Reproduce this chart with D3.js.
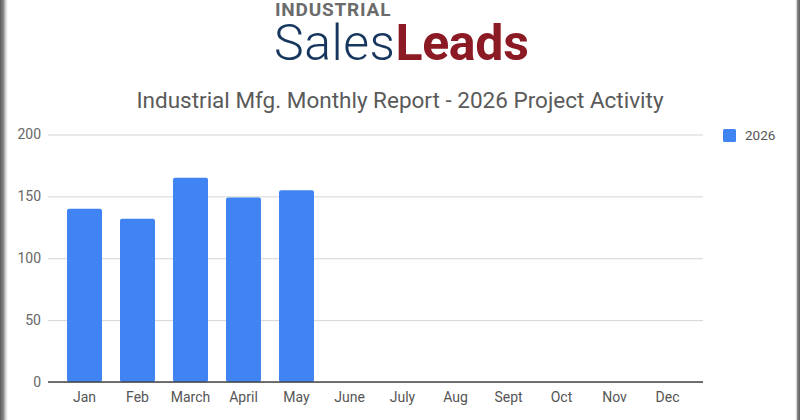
<!DOCTYPE html>
<html><head><meta charset="utf-8">
<script src="https://cdn.jsdelivr.net/npm/d3@7"></script>
<style>html,body{margin:0;padding:0;background:#fff;}svg{display:block;}</style>
</head><body>
<script>
const months = ["Jan","Feb","March","April","May","June","July","Aug","Sept","Oct","Nov","Dec"];
const values2026 = [140,132,165,149,155,null,null,null,null,null,null,null];
const yTicks = [0,50,100,150,200];
const seriesName = "2026";
const titleText = "Industrial Mfg. Monthly Report - 2026 Project Activity";

const W = 800, H = 420;
const svg = d3.select("body").append("svg").attr("width", W).attr("height", H);
const font = "Roboto, 'Noto Sans', Arial, sans-serif";

// frame edges
const defs = svg.append("defs");
const gl = defs.append("linearGradient").attr("id","gl").attr("x1","0").attr("x2","1");
gl.append("stop").attr("offset","0").attr("stop-color","#5a5a5a");
gl.append("stop").attr("offset","0.4").attr("stop-color","#8a8a8a");
gl.append("stop").attr("offset","1").attr("stop-color","#ffffff").attr("stop-opacity",0);
const gr = defs.append("linearGradient").attr("id","gr").attr("x1","1").attr("x2","0");
gr.append("stop").attr("offset","0").attr("stop-color","#5a5a5a");
gr.append("stop").attr("offset","0.5").attr("stop-color","#8a8a8a");
gr.append("stop").attr("offset","1").attr("stop-color","#ffffff").attr("stop-opacity",0);
svg.append("rect").attr("x",0).attr("y",0).attr("width",9).attr("height",H).attr("fill","url(#gl)");
svg.append("rect").attr("x",795).attr("y",0).attr("width",5).attr("height",H).attr("fill","url(#gr)");

// logo
svg.append("text").attr("x",275).attr("y",16).attr("font-family",font).attr("font-weight",700)
  .attr("font-size",19).attr("fill","#6b6b6b").attr("letter-spacing",0.8).text("INDUSTRIAL");
const logo = svg.append("text").attr("x",274).attr("y",60).attr("font-family",font).attr("font-size",50);
logo.append("tspan").attr("fill","#17365d").attr("font-weight",300).attr("letter-spacing",0.5).text("Sales");
logo.append("tspan").attr("fill","#8c1a24").attr("font-weight",700).attr("letter-spacing",-0.3).text("Leads");

// title
svg.append("text").attr("x",400).attr("y",108).attr("text-anchor","middle")
  .attr("font-family",font).attr("font-size",22.5).attr("fill","#5a5a5a").text(titleText);

const plotL = 48, plotR = 703, y0 = 382, yTop = 134.5;
const x = d3.scaleBand().domain(months).range([58,694]).paddingInner(0.34).paddingOuter(0.17);
const y = d3.scaleLinear().domain([0,200]).range([y0,yTop]);

// gridlines
const yAxis = d3.axisLeft(y).tickValues(yTicks).tickSize(-(plotR-plotL)).tickPadding(7);
const gy = svg.append("g").attr("transform",`translate(${plotL},0)`).call(yAxis);
gy.select(".domain").remove();
gy.selectAll(".tick line").attr("stroke","#d4d4d4").attr("stroke-width",1);
gy.selectAll(".tick text").attr("font-family",font).attr("font-size",14).attr("fill","#666");

// bars
const data = months.map((m,i)=>({m, v: values2026[i]})).filter(d=>d.v!=null);
svg.append("g").selectAll("rect").data(data).join("rect")
  .attr("x",d=>x(d.m)).attr("width",x.bandwidth())
  .attr("y",d=>y(d.v)).attr("height",d=>y0-y(d.v))
  .attr("rx",2).attr("fill","#4083f2");

// x axis
const xAxis = d3.axisBottom(x).tickSize(0).tickPadding(10);
const gx = svg.append("g").attr("transform",`translate(0,${y0})`).call(xAxis);
gx.select(".domain").remove();
gx.selectAll(".tick text").attr("font-family",font).attr("font-size",14).attr("fill","#555");
svg.append("line").attr("x1",plotL).attr("x2",plotR).attr("y1",y0).attr("y2",y0)
  .attr("stroke","#444").attr("stroke-width",1.3);

// legend
svg.append("rect").attr("x",723).attr("y",129).attr("width",13).attr("height",13).attr("rx",1.5).attr("fill","#4083f2");
svg.append("text").attr("x",745).attr("y",140).attr("font-family",font).attr("font-size",13.5)
  .attr("fill","#555").text(seriesName);
</script>
</body></html>
